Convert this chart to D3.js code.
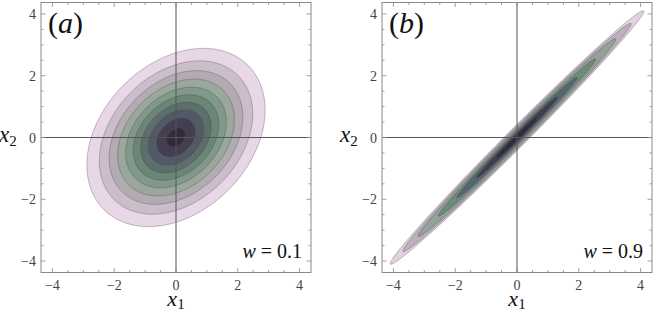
<!DOCTYPE html>
<html>
<head>
<meta charset="utf-8">
<script src="https://cdn.jsdelivr.net/npm/d3@7"></script>
</head>
<body style="margin:0">
<div id="chart"></div>
<script>

// panels
let panelNames = ["a", "b"];
let weights = ["0.1", "0.9"];

// outermost contour: semi axes along / across the 45 degree diagonal
let semiMajor = [3.3, 5.8];
let semiMinor = [2.4, 0.30];

// contour levels, as fraction of the outermost contour size
let levelsA = [1, 0.86, 0.75, 0.655, 0.565, 0.48, 0.395, 0.31, 0.215, 0.1];
let levelsB = [1, 0.9, 0.78, 0.62, 0.475, 0.32, 0.16];

let majorTicks = [-4, -2, 0, 2, 4];
let minorTicks = d3.range(-4, 4.01, 0.5);

let coloursA = ["#e8d7e6", "#cbbecb", "#b2acb2", "#9aa89c", "#81998a", "#6b8576",
    "#5d6f6a", "#535a67", "#443e51", "#33293a"];
let coloursB = ["#e2d2e0", "#bcb0bd", "#90a395", "#6f8a79", "#566572", "#433d51", "#31283a"];

let svg = d3.select("#chart").append("svg")
    .attr("width", 654)
    .attr("height", 310)
    .style("font-family", "Liberation Serif");

let domainMax = 4.37;
let panelLeft = [41, 382];
let size = 270;
let plotTop = 2.5;

let plots = svg.append("g");
let labels = svg.append("g").attr("font-family", "Liberation Serif");

panelNames.forEach((name, p) => {
    let levels = p === 0 ? levelsA : levelsB;
    let colours = p === 0 ? coloursA : coloursB;

    let x = d3.scaleLinear().domain([-domainMax, domainMax]).range([panelLeft[p], panelLeft[p] + size]);
    let y = d3.scaleLinear().domain([-domainMax, domainMax]).range([plotTop + size, plotTop]);

    let g = plots.append("g");
    let t = labels.append("g");

    // clip
    g.append("clipPath").attr("id", "clip" + name)
        .append("rect")
        .attr("x", x(-domainMax)).attr("y", y(domainMax))
        .attr("width", size).attr("height", size);

    // grid of distances
    let n = 400;
    let step = 2 * domainMax / (n - 1);
    let values = new Array(n * n);
    let a = semiMajor[p], b = semiMinor[p];
    for (let j = 0; j < n; j++) {
        let yy = domainMax - j * step;
        for (let i = 0; i < n; i++) {
            let xx = -domainMax + i * step;
            let u = (xx + yy) / Math.SQRT2;
            let v = (yy - xx) / Math.SQRT2;
            values[j * n + i] = -Math.sqrt((u / a) ** 2 + (v / b) ** 2);
        }
    }

    let contours = d3.contours()
        .size([n, n])
        .thresholds(levels.map(l => -l))(values);

    let path = d3.geoPath(d3.geoTransform({
        point: function(gx, gy) {
            this.stream.point(x(-domainMax + (gx - 0.5) * step), y(domainMax - (gy - 0.5) * step));
        }
    }));

    g.append("g")
        .attr("clip-path", "url(#clip" + name + ")")
        .selectAll("path")
        .data(contours)
        .join("path")
        .attr("d", path)
        .attr("fill", (d, i) => colours[i])
        .attr("stroke", "rgba(70,50,70,0.45)")
        .attr("stroke-width", 0.7);

    // axes through origin
    g.append("line")
        .attr("x1", x(0)).attr("x2", x(0))
        .attr("y1", y(domainMax)).attr("y2", y(-domainMax))
        .attr("stroke", "#555").attr("stroke-width", 1);
    g.append("line")
        .attr("x1", x(-domainMax)).attr("x2", x(domainMax))
        .attr("y1", y(0)).attr("y2", y(0))
        .attr("stroke", "#555").attr("stroke-width", 1);

    // frame ticks (inside)
    let tickGroup = g.append("g").attr("stroke", "#8a8a8a").attr("stroke-width", 0.8);
    minorTicks.forEach(tk => {
        let len = majorTicks.includes(tk) ? 4.5 : 2.5;
        tickGroup.append("line").attr("x1", x(tk)).attr("x2", x(tk)).attr("y1", y(-domainMax)).attr("y2", y(-domainMax) - len);
        tickGroup.append("line").attr("x1", x(tk)).attr("x2", x(tk)).attr("y1", y(domainMax)).attr("y2", y(domainMax) + len);
        tickGroup.append("line").attr("y1", y(tk)).attr("y2", y(tk)).attr("x1", x(-domainMax)).attr("x2", x(-domainMax) + len);
        tickGroup.append("line").attr("y1", y(tk)).attr("y2", y(tk)).attr("x1", x(domainMax)).attr("x2", x(domainMax) - len);
    });

    // frame
    g.append("rect")
        .attr("x", x(-domainMax)).attr("y", y(domainMax))
        .attr("width", size).attr("height", size)
        .attr("fill", "none").attr("stroke", "#8a8a8a").attr("stroke-width", 1);

    // tick labels
    t.selectAll(".xlab")
        .data(majorTicks)
        .join("text")
        .attr("class", "xlab")
        .attr("x", d => x(d))
        .attr("y", 290)
        .attr("text-anchor", "middle")
        .attr("font-size", 14)
        .attr("fill", "#444")
        .text(d => d < 0 ? "\u2212" + Math.abs(d) : d);

    t.selectAll(".ylab")
        .data(majorTicks)
        .join("text")
        .attr("class", "ylab")
        .attr("x", x(-domainMax) - 5)
        .attr("y", d => y(d) + 5)
        .attr("text-anchor", "end")
        .attr("font-size", 14)
        .attr("fill", "#444")
        .text(d => d < 0 ? "\u2212" + Math.abs(d) : d);

    // axis titles
    t.append("text")
        .attr("x", x(0))
        .attr("y", 306)
        .attr("text-anchor", "middle")
        .attr("font-size", 22)
        .attr("fill", "#111")
        .html("<tspan font-style='italic'>x</tspan><tspan font-size='15' dy='3'>1</tspan>");

    t.append("text")
        .attr("x", x(-domainMax) - 42)
        .attr("y", 142)
        .attr("font-size", 23)
        .attr("fill", "#111")
        .html("<tspan font-style='italic'>x</tspan><tspan font-size='15' dy='4'>2</tspan>");

    // panel label
    t.append("text")
        .attr("x", x(-domainMax) + 7)
        .attr("y", 33)
        .attr("font-size", 30)
        .attr("fill", "#111")
        .html("(<tspan font-style='italic'>" + name + "</tspan>)");

    // weight label
    t.append("text")
        .attr("x", x(domainMax) - 9)
        .attr("y", 258)
        .attr("text-anchor", "end")
        .attr("font-size", 20)
        .attr("fill", "#111")
        .html("<tspan font-style='italic'>w</tspan> = " + weights[p]);
});

</script>
</body>
</html>
